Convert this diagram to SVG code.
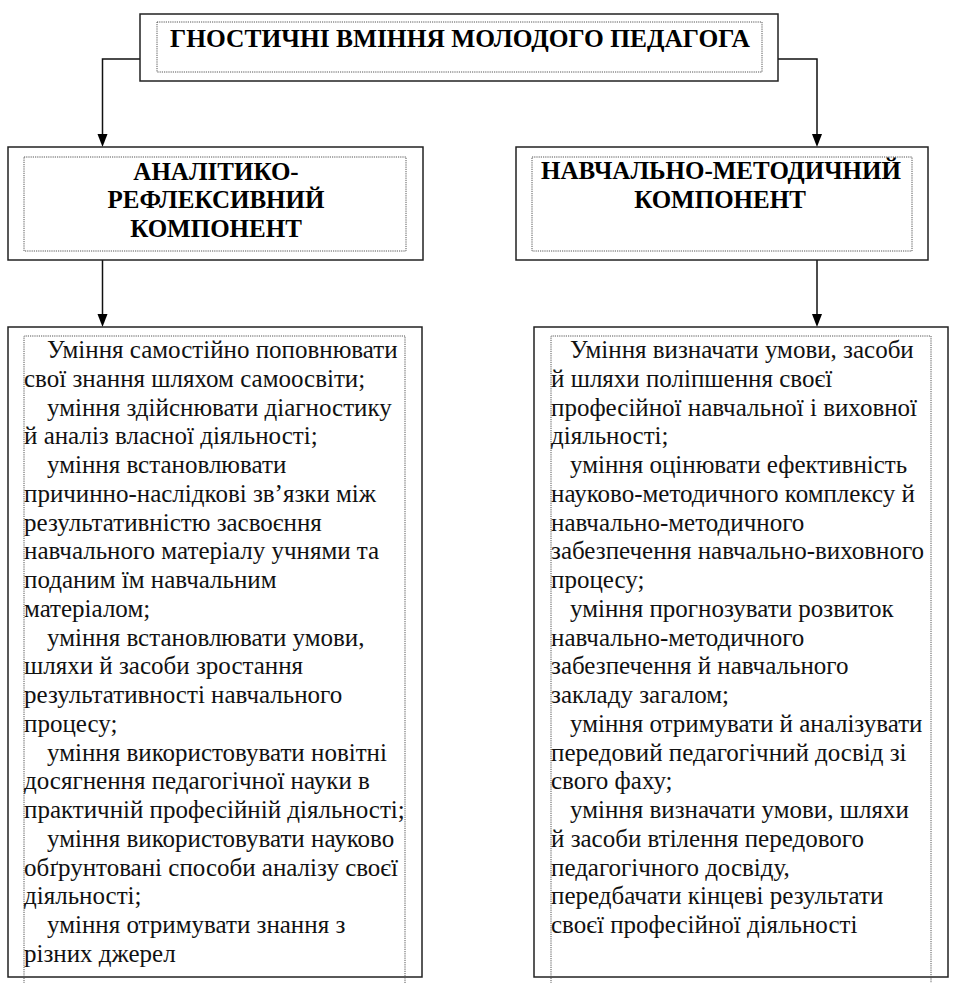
<svg xmlns="http://www.w3.org/2000/svg" width="958" height="983" viewBox="0 0 958 983">
<defs>
<style>
.outer{fill:#fff;stroke:#222;stroke-width:1.5}
.inner{fill:none;stroke:#555;stroke-width:1;stroke-dasharray:1.2 1}
.conn{fill:none;stroke:#111;stroke-width:1.5}
.hd{font-family:"Liberation Serif","Times New Roman",serif;font-weight:bold;font-size:25px;fill:#000;text-anchor:middle}
.tt{font-family:"Liberation Serif","Times New Roman",serif;font-weight:bold;font-size:25px;fill:#000}
.bd{font-family:"Liberation Serif","Times New Roman",serif;font-size:25px;fill:#111}
</style>
</defs>
<rect width="958" height="983" fill="#fff"/>

<g id="connectors">
<path class="conn" d="M140,59 H102.5 V140"/>
<path class="conn" d="M778,59 H817 V140"/>
<path class="conn" d="M102.5,260 V320"/>
<path class="conn" d="M817,260 V320"/>
<path d="M97.5,134 L107.5,134 L102.5,147 Z" fill="#000"/>
<path d="M812,134 L822,134 L817,147 Z" fill="#000"/>
<path d="M97.5,314 L107.5,314 L102.5,327 Z" fill="#000"/>
<path d="M812,314 L822,314 L817,327 Z" fill="#000"/>
</g>

<g id="title">
<rect class="outer" x="140" y="14" width="638" height="67"/>
<rect class="inner" x="157" y="22" width="605" height="50"/>
<text class="tt" x="170" y="47" textLength="580" lengthAdjust="spacingAndGlyphs">ГНОСТИЧНІ ВМІННЯ МОЛОДОГО ПЕДАГОГА</text>
</g>

<g id="analytic">
<rect class="outer" x="8" y="147" width="415" height="113"/>
<rect class="inner" x="24" y="157" width="382" height="94"/>
<text class="hd" x="216" y="180">АНАЛІТИКО-</text>
<text class="hd" x="216" y="208">РЕФЛЕКСИВНИЙ</text>
<text class="hd" x="216" y="237">КОМПОНЕНТ</text>
</g>

<g id="method">
<rect class="outer" x="516" y="147" width="412" height="113"/>
<rect class="inner" x="532" y="157" width="380" height="94"/>
<text class="hd" x="721" y="179">НАВЧАЛЬНО-МЕТОДИЧНИЙ</text>
<text class="hd" x="720" y="208">КОМПОНЕНТ</text>
</g>

<g id="analytic-skills">
<rect class="outer" x="8" y="327" width="414" height="650"/>
<path class="inner" d="M24,990 V336 H405 V990"/>
<text class="bd">
<tspan x="47" y="358">Уміння самостійно поповнювати</tspan>
<tspan x="24" y="386.8">свої знання шляхом самоосвіти;</tspan>
<tspan x="47" y="415.5">уміння здійснювати діагностику</tspan>
<tspan x="24" y="444.3">й аналіз власної діяльності;</tspan>
<tspan x="47" y="473">уміння встановлювати</tspan>
<tspan x="24" y="501.8">причинно-наслідкові зв’язки між</tspan>
<tspan x="24" y="530.6">результативністю засвоєння</tspan>
<tspan x="24" y="559.3">навчального матеріалу учнями та</tspan>
<tspan x="24" y="588.1">поданим їм навчальним</tspan>
<tspan x="24" y="616.8">матеріалом;</tspan>
<tspan x="47" y="645.6">уміння встановлювати умови,</tspan>
<tspan x="24" y="674.4">шляхи й засоби зростання</tspan>
<tspan x="24" y="703.1">результативності навчального</tspan>
<tspan x="24" y="731.9">процесу;</tspan>
<tspan x="47" y="760.6">уміння використовувати новітні</tspan>
<tspan x="24" y="789.4">досягнення педагогічної науки в</tspan>
<tspan x="24" y="818.2">практичній професійній діяльності;</tspan>
<tspan x="47" y="846.9">уміння використовувати науково</tspan>
<tspan x="24" y="875.7">обґрунтовані способи аналізу своєї</tspan>
<tspan x="24" y="904.4">діяльності;</tspan>
<tspan x="47" y="933.2">уміння отримувати знання з</tspan>
<tspan x="24" y="962">різних джерел</tspan>
</text>
</g>

<g id="method-skills">
<rect class="outer" x="534" y="327" width="414" height="650"/>
<path class="inner" d="M551,990 V336 H931 V990"/>
<text class="bd">
<tspan x="570" y="358">Уміння визначати умови, засоби</tspan>
<tspan x="551" y="386.8">й шляхи поліпшення своєї</tspan>
<tspan x="551" y="415.5">професійної навчальної і виховної</tspan>
<tspan x="551" y="444.3">діяльності;</tspan>
<tspan x="570" y="473">уміння оцінювати ефективність</tspan>
<tspan x="551" y="501.8">науково-методичного комплексу й</tspan>
<tspan x="551" y="530.6">навчально-методичного</tspan>
<tspan x="551" y="559.3">забезпечення навчально-виховного</tspan>
<tspan x="551" y="588.1">процесу;</tspan>
<tspan x="570" y="616.8">уміння прогнозувати розвиток</tspan>
<tspan x="551" y="645.6">навчально-методичного</tspan>
<tspan x="551" y="674.4">забезпечення й навчального</tspan>
<tspan x="551" y="703.1">закладу загалом;</tspan>
<tspan x="570" y="731.9">уміння отримувати й аналізувати</tspan>
<tspan x="551" y="760.6">передовий педагогічний досвід зі</tspan>
<tspan x="551" y="789.4">свого фаху;</tspan>
<tspan x="570" y="818.2">уміння визначати умови, шляхи</tspan>
<tspan x="551" y="846.9">й засоби втілення передового</tspan>
<tspan x="551" y="875.7">педагогічного досвіду,</tspan>
<tspan x="551" y="904.4">передбачати кінцеві результати</tspan>
<tspan x="551" y="933.2">своєї професійної діяльності</tspan>
</text>
</g>
</svg>
